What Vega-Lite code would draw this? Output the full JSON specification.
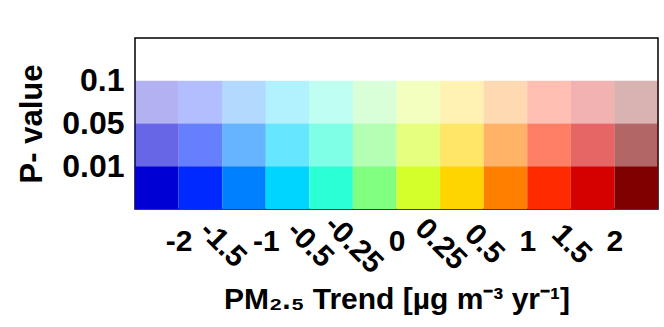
{
  "$schema": "https://vega.github.io/schema/vega-lite/v6.json",
  "width": 523,
  "height": 171,
  "autosize": {"type": "none"},
  "padding": {"left": 135, "top": 38, "right": 6, "bottom": 118},
  "background": "white",
  "config": {"view": {"stroke": "#000", "strokeWidth": 1.5}, "font": "Liberation Sans"},
  "data": {"values": [
    {"bin": 0, "lo": 0, "hi": 1, "p": "0.01", "plo": 0, "phi": 1},
    {"bin": 1, "lo": 1, "hi": 2, "p": "0.01", "plo": 0, "phi": 1},
    {"bin": 2, "lo": 2, "hi": 3, "p": "0.01", "plo": 0, "phi": 1},
    {"bin": 3, "lo": 3, "hi": 4, "p": "0.01", "plo": 0, "phi": 1},
    {"bin": 4, "lo": 4, "hi": 5, "p": "0.01", "plo": 0, "phi": 1},
    {"bin": 5, "lo": 5, "hi": 6, "p": "0.01", "plo": 0, "phi": 1},
    {"bin": 6, "lo": 6, "hi": 7, "p": "0.01", "plo": 0, "phi": 1},
    {"bin": 7, "lo": 7, "hi": 8, "p": "0.01", "plo": 0, "phi": 1},
    {"bin": 8, "lo": 8, "hi": 9, "p": "0.01", "plo": 0, "phi": 1},
    {"bin": 9, "lo": 9, "hi": 10, "p": "0.01", "plo": 0, "phi": 1},
    {"bin": 10, "lo": 10, "hi": 11, "p": "0.01", "plo": 0, "phi": 1},
    {"bin": 11, "lo": 11, "hi": 12, "p": "0.01", "plo": 0, "phi": 1},
    {"bin": 0, "lo": 0, "hi": 1, "p": "0.05", "plo": 1, "phi": 2},
    {"bin": 1, "lo": 1, "hi": 2, "p": "0.05", "plo": 1, "phi": 2},
    {"bin": 2, "lo": 2, "hi": 3, "p": "0.05", "plo": 1, "phi": 2},
    {"bin": 3, "lo": 3, "hi": 4, "p": "0.05", "plo": 1, "phi": 2},
    {"bin": 4, "lo": 4, "hi": 5, "p": "0.05", "plo": 1, "phi": 2},
    {"bin": 5, "lo": 5, "hi": 6, "p": "0.05", "plo": 1, "phi": 2},
    {"bin": 6, "lo": 6, "hi": 7, "p": "0.05", "plo": 1, "phi": 2},
    {"bin": 7, "lo": 7, "hi": 8, "p": "0.05", "plo": 1, "phi": 2},
    {"bin": 8, "lo": 8, "hi": 9, "p": "0.05", "plo": 1, "phi": 2},
    {"bin": 9, "lo": 9, "hi": 10, "p": "0.05", "plo": 1, "phi": 2},
    {"bin": 10, "lo": 10, "hi": 11, "p": "0.05", "plo": 1, "phi": 2},
    {"bin": 11, "lo": 11, "hi": 12, "p": "0.05", "plo": 1, "phi": 2},
    {"bin": 0, "lo": 0, "hi": 1, "p": "0.1", "plo": 2, "phi": 3},
    {"bin": 1, "lo": 1, "hi": 2, "p": "0.1", "plo": 2, "phi": 3},
    {"bin": 2, "lo": 2, "hi": 3, "p": "0.1", "plo": 2, "phi": 3},
    {"bin": 3, "lo": 3, "hi": 4, "p": "0.1", "plo": 2, "phi": 3},
    {"bin": 4, "lo": 4, "hi": 5, "p": "0.1", "plo": 2, "phi": 3},
    {"bin": 5, "lo": 5, "hi": 6, "p": "0.1", "plo": 2, "phi": 3},
    {"bin": 6, "lo": 6, "hi": 7, "p": "0.1", "plo": 2, "phi": 3},
    {"bin": 7, "lo": 7, "hi": 8, "p": "0.1", "plo": 2, "phi": 3},
    {"bin": 8, "lo": 8, "hi": 9, "p": "0.1", "plo": 2, "phi": 3},
    {"bin": 9, "lo": 9, "hi": 10, "p": "0.1", "plo": 2, "phi": 3},
    {"bin": 10, "lo": 10, "hi": 11, "p": "0.1", "plo": 2, "phi": 3},
    {"bin": 11, "lo": 11, "hi": 12, "p": "0.1", "plo": 2, "phi": 3}
  ]},
  "mark": {"type": "rect"},
  "encoding": {
    "x": {
      "field": "lo", "type": "quantitative",
      "scale": {"domain": [0, 12], "nice": false, "zero": false},
      "axis": {
        "values": [1, 2, 3, 4, 5, 6, 7, 8, 9, 10, 11],
        "labelExpr": "['','-2','-1.5','-1','-0.5','-0.25','0','0.25','0.5','1','1.5','2'][datum.value]",
        "labelAngle": {"expr": "indexof([2,4,5,7,8,10], datum.value) >= 0 ? 45 : 0"},
        "labelAlign": "center",
        "labelBaseline": "middle",
        "labelPadding": {"condition": {"test": "indexof([2,4,5,7,8,10], datum.value) >= 0", "value": 35}, "value": 32},
        "labelFontSize": 30, "labelFontWeight": "bold", "labelColor": "#000",
        "labelOverlap": false, "labelFlush": false, "labelBound": false,
        "ticks": false, "domain": false, "grid": false,
        "title": "PM₂.₅ Trend [µg m⁻³ yr⁻¹]",
        "titleFontSize": 30, "titleFontWeight": "bold", "titleColor": "#000", "titlePadding": 6
      }
    },
    "x2": {"field": "hi"},
    "y": {
      "field": "plo", "type": "quantitative",
      "scale": {"domain": [0, 4], "nice": false, "zero": false},
      "axis": {
        "values": [1, 2, 3],
        "labelExpr": "['','0.01','0.05','0.1'][datum.value]",
        "labelFontSize": 32, "labelFontWeight": "bold", "labelColor": "#000",
        "labelBaseline": "middle", "labelPadding": 11,
        "labelOverlap": false, "labelFlush": false,
        "ticks": false, "domain": false, "grid": false,
        "title": "P- value",
        "titleFontSize": 31, "titleFontWeight": "bold", "titleColor": "#000", "titlePadding": 13
      }
    },
    "y2": {"field": "phi"},
    "color": {
      "field": "bin", "type": "ordinal", "legend": null,
      "scale": {
        "domain": [0, 1, 2, 3, 4, 5, 6, 7, 8, 9, 10, 11],
        "range": ["#0000D5", "#0029FF", "#0080FF", "#00D5FF", "#2AFFD5", "#80FF80", "#D5FF2A", "#FFD500", "#FF8000", "#FF2A00", "#D50000", "#800000"]
      }
    },
    "opacity": {
      "field": "p", "type": "nominal", "legend": null,
      "scale": {"type": "ordinal", "domain": ["0.01", "0.05", "0.1"], "range": [1, 0.6, 0.3]}
    }
  }
}
